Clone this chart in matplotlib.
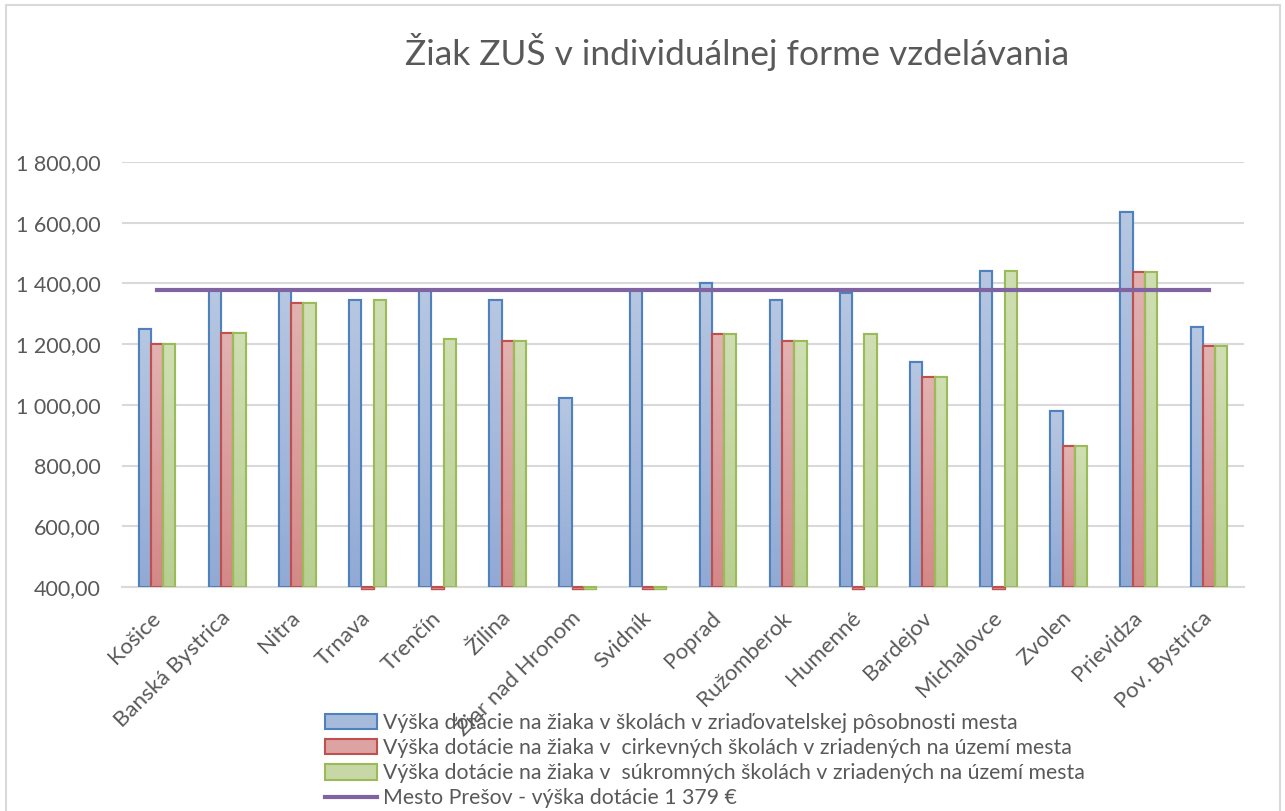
import numpy as np
import matplotlib
matplotlib.use("Agg")
import matplotlib.pyplot as plt
from matplotlib.patches import Rectangle, Patch
from matplotlib.lines import Line2D
from matplotlib.ticker import FuncFormatter
from matplotlib.colors import LinearSegmentedColormap

plt.rcParams['font.family'] = ['Lato', 'DejaVu Sans']

mesta = ["Košice", "Banská Bystrica", "Nitra", "Trnava", "Trenčín", "Žilina",
         "Žiar nad Hronom", "Svidník", "Poprad", "Ružomberok", "Humenné",
         "Bardejov", "Michalovce", "Zvolen", "Prievidza", "Pov. Bystrica"]

zriadovatel = [1250, 1377, 1380, 1347, 1380, 1345, 1024, 1379, 1400, 1344,
               1369, 1140, 1440, 980, 1636, 1257]
cirkevne = [1200, 1238, 1337, 0, 0, 1211, 0, 0, 1232, 1209,
            0, 1092, 0, 863, 1437, 1194]
sukromne = [1200, 1238, 1337, 1347, 1217, 1211, 0, 0, 1232, 1209,
            1232, 1092, 1440, 863, 1437, 1194]
presov = 1379

labels = ["Výška dotácie na žiaka v školách v zriaďovatelskej pôsobnosti mesta",
          "Výška dotácie na žiaka v  cirkevných školách v zriadených na území mesta",
          "Výška dotácie na žiaka v  súkromných školách v zriadených na území mesta",
          "Mesto Prešov - výška dotácie 1 379 €"]

fills = ["#A6BADC", "#DCA3A2", "#C7D8A6"]
# gradient: top colour -> bottom colour (Excel style bars)
grad = [("#B7C7E2", "#91AAD5"), ("#E2B2B1", "#D48988"), ("#CFDFB3", "#B8CF91")]
edges = ["#4F81BD", "#C0504D", "#9BBB59"]
gray = "#595959"

fig = plt.figure(figsize=(12.85, 8.11), dpi=100)
fig.patches.append(Rectangle((6 / 1285, -0.01), 1274 / 1285, 1 - 5 / 811 + 0.01,
                             transform=fig.transFigure, fill=False,
                             edgecolor="#D9D9D9", linewidth=1.5))
ax = fig.add_axes([122 / 1285, 1 - 587 / 811, 1122 / 1285, 425 / 811])

ymin, ymax = 400, 1800
x = np.arange(len(mesta))
w = 0.175
series = [zriadovatel, cirkevne, sukromne]
gradimg = np.linspace(1, 0, 64).reshape(-1, 1)
for i, vals in enumerate(series):
    pos = x + (i - 1) * w
    vals = np.array(vals, dtype=float)
    cmap = LinearSegmentedColormap.from_list(f"g{i}", [grad[i][1], grad[i][0]])
    bars = ax.bar(pos, vals - ymin, bottom=ymin, width=w, color=fills[i],
                  edgecolor=edges[i], linewidth=1.5, zorder=3)
    for b, v in zip(bars, vals):
        if v <= ymin:
            continue
        bx, by = b.get_x(), b.get_y()
        im = ax.imshow(gradimg, cmap=cmap, aspect="auto", zorder=3.1,
                       extent=(bx, bx + b.get_width(), by, by + b.get_height()))
        im.set_clip_path(b)
        ax.add_patch(Rectangle((bx, by), b.get_width(), b.get_height(),
                               fill=False, edgecolor=edges[i], linewidth=1.5,
                               zorder=3.2))
    # Excel shows a small stub below the axis for zero values
    zero = vals == 0
    if zero.any():
        ax.bar(pos[zero], 8, bottom=ymin - 8, width=w, color=fills[i],
               edgecolor=edges[i], linewidth=1.0, zorder=3, clip_on=False)

ax.plot(x, [presov] * len(x), color="#8064A2", linewidth=3, zorder=4)

ax.set_xlim(-0.5, len(mesta) - 0.5)
ax.set_ylim(ymin, ymax)
ax.set_yticks(np.arange(400, 1801, 200))
ax.yaxis.set_major_formatter(FuncFormatter(
    lambda v, p: f"{v:,.2f}".replace(",", " ").replace(".", ",")))
ax.grid(axis="y", color="#D9D9D9", linewidth=1.5, zorder=0)
for s in ["top", "right", "left"]:
    ax.spines[s].set_visible(False)
ax.spines["bottom"].set_color("#D9D9D9")
ax.spines["bottom"].set_linewidth(1.5)
ax.tick_params(axis="both", length=0, colors=gray)
ax.tick_params(axis="y", pad=15.5, labelsize=15.5)
ax.tick_params(axis="x", pad=20, labelsize=16)
ax.set_xticks(x)
ax.set_xticklabels(mesta, rotation=45, ha="right", va="center",
                   rotation_mode="anchor")

fig.text(737 / 1285, 1 - 52 / 811, "Žiak ZUŠ v individuálnej forme vzdelávania",
         ha="center", va="center", fontsize=25.5, color=gray)

handles = [Patch(facecolor=fills[i], edgecolor=edges[i], linewidth=1.5)
           for i in range(3)]
handles.append(Line2D([0], [0], color="#8064A2", linewidth=3))
leg = fig.legend(handles, labels, loc="upper left",
                 bbox_to_anchor=(325 / 1285, 1 - 713 / 811), frameon=False,
                 fontsize=15.3, labelcolor=gray, handlelength=2.45,
                 handleheight=0.75, handletextpad=0.28, labelspacing=0.24,
                 borderpad=0, borderaxespad=0)

fig.savefig("out.png", dpi=100)
